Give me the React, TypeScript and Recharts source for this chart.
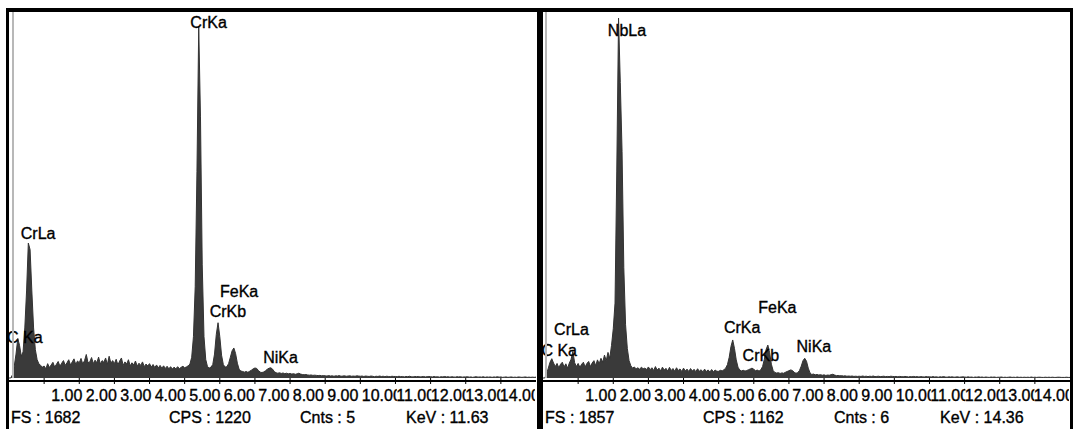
import { Area, AreaChart, ReferenceDot, XAxis, YAxis } from "recharts"

const font = "'Liberation Sans', Arial, sans-serif"
const channelKeV = 0.05
const kevTicks = [1, 2, 3, 4, 5, 6, 7, 8, 9, 10, 11, 12, 13, 14]

// counts per 0.05 keV channel, 0 .. 15 keV
const leftCounts = [
  0, 0, 15, 55, 110, 182, 150, 100, 120, 230, 400, 620, 590, 400, 230, 130, 85, 65, 58, 50,
  55, 42, 66, 48, 60, 72, 50, 63, 76, 54, 68, 80, 58, 70, 84, 60, 74, 88, 62, 78,
  70, 90, 64, 80, 108, 70, 74, 94, 66, 82, 70, 96, 64, 80, 72, 92, 62, 100, 68, 80,
  66, 86, 60, 78, 92, 58, 74, 64, 84, 56, 70, 60, 78, 54, 68, 58, 74, 52, 64, 56,
  66, 50, 62, 48, 60, 46, 58, 45, 56, 44, 54, 42, 52, 41, 50, 42, 52, 43, 49, 54,
  47, 51, 56, 64, 95, 190, 420, 950, 1615, 1200, 520, 190, 85, 52, 46, 50, 62, 110, 200, 254,
  190, 105, 62, 50, 52, 66, 95, 125, 138, 112, 68, 40, 32, 30, 27, 30, 26, 31, 36, 42,
  46, 44, 34, 27, 25, 28, 33, 40, 45, 47, 41, 30, 24, 22, 24, 21, 23, 20, 22, 19,
  21, 18, 20, 17, 19, 22, 18, 16, 15, 16, 14, 13, 14, 12, 13, 12, 11, 12, 10, 11,
  10, 9, 11, 9, 10, 8, 10, 9, 11, 8, 9, 10, 8, 9, 10, 8, 9, 8, 10, 9,
  8, 9, 7, 9, 8, 7, 9, 8, 6, 8, 7, 9, 7, 8, 6, 8, 7, 6, 8, 7,
  7, 6, 8, 6, 7, 5, 7, 6, 8, 6, 5, 7, 6, 7, 5, 6, 7, 5, 6, 7,
  6, 5, 7, 5, 6, 4, 6, 5, 7, 5, 6, 4, 6, 5, 4, 6, 5, 6, 4, 5,
  5, 6, 4, 5, 3, 5, 6, 4, 5, 4, 6, 3, 5, 4, 5, 3, 5, 4, 6, 4,
  5, 3, 4, 5, 3, 4, 5, 3, 4, 3, 5, 4, 3, 4, 5, 3, 4, 3, 4, 3,
  4,
]

const rightCounts = [
  0, 0, 20, 50, 80, 98, 76, 58, 74, 52, 70, 80, 56, 72, 50, 76, 95, 135, 78, 58,
  74, 54, 70, 80, 56, 74, 84, 58, 76, 88, 62, 92, 72, 100, 80, 116, 88, 130, 100, 165,
  250, 380, 1050, 1826, 1500, 1150, 560, 270, 150, 88, 62, 50, 56, 46, 52, 44, 55, 47, 50, 43,
  56, 42, 52, 38, 58, 40, 50, 36, 55, 40, 49, 35, 54, 38, 48, 34, 52, 38, 46, 33,
  50, 36, 45, 33, 48, 35, 44, 32, 47, 34, 42, 31, 45, 33, 41, 30, 43, 32, 40, 34,
  34, 39, 36, 42, 50, 68, 105, 160, 193, 150, 92, 55, 40, 36, 39, 35, 38, 42, 46, 50,
  44, 37, 40, 35, 42, 58, 95, 145, 167, 128, 70, 38, 28, 25, 27, 23, 26, 24, 29, 33,
  37, 41, 38, 29, 24, 27, 38, 60, 88, 100, 85, 50, 26, 18, 20, 16, 18, 15, 17, 14,
  16, 13, 15, 14, 17, 19, 15, 12, 13, 11, 12, 10, 11, 9, 10, 9, 10, 8, 9, 8,
  9, 8, 10, 8, 9, 7, 9, 8, 10, 7, 8, 9, 7, 8, 9, 7, 8, 7, 9, 8,
  7, 8, 6, 8, 7, 6, 8, 7, 5, 7, 6, 8, 6, 7, 5, 7, 6, 5, 7, 6,
  6, 5, 7, 5, 6, 4, 6, 5, 7, 5, 4, 6, 5, 6, 4, 5, 6, 4, 5, 6,
  5, 4, 6, 4, 5, 3, 5, 4, 6, 4, 5, 3, 5, 4, 3, 5, 4, 5, 3, 4,
  4, 5, 3, 4, 3, 4, 5, 3, 4, 3, 5, 3, 4, 3, 4, 3, 4, 3, 5, 3,
  4, 3, 4, 4, 3, 3, 4, 3, 4, 3, 4, 3, 3, 4, 4, 3, 3, 3, 4, 3,
  3,
]

// peak labels: name, keV, counts where the label sits
const leftPeakNames = ["CrKa", "CrLa", "C Ka", "FeKa", "CrKb", "NiKa"]
const leftPeakKeV = [5.68, 0.83, 0.45, 6.55, 6.23, 7.73]
const leftPeakLevel = [1636, 664, 186, 400, 306, 94]

const rightPeakNames = ["NbLa", "CrLa", "C Ka", "CrKa", "FeKa", "CrKb", "NiKa"]
const rightPeakKeV = [2.39, 0.81, 0.46, 5.67, 6.67, 6.2, 7.71]
const rightPeakLevel = [1764, 247, 138, 259, 361, 117, 159]

const leftStatus = ["FS : 1682", "CPS : 1220", "Cnts : 5", "KeV : 11.63"]
const rightStatus = ["FS : 1857", "CPS : 1162", "Cnts : 6", "KeV : 14.36"]
const leftFullScale = 1682
const rightFullScale = 1857

const statusX = [2, 160, 291, 397]
const plotW = 527
const plotH = 369

function KevTick(props: any) {
  const { x, y, payload } = props
  const v = payload.value as number
  const shift = 7 - (v - 1) * 0.615
  return (
    <g>
      <line x1={x} x2={x} y1={y - 3} y2={y + 3} stroke="#000" strokeWidth={1} />
      <svg x={x + shift} y={y + 3} width={35} height={22} overflow="hidden">
        <text x={0} y={17} fontSize={16} fontFamily={font} fill="#000" stroke="#000" strokeWidth={0.35}>
          {v.toFixed(2)}
        </text>
      </svg>
    </g>
  )
}

type SpectrumProps = {
  left: number
  counts: number[]
  names: string[]
  peakKeV: number[]
  peakLevel: number[]
  fullScale: number
  status: string[]
}

function Spectrum({ left, counts, names, peakKeV, peakLevel, fullScale, status }: SpectrumProps) {
  const rows = counts.map((c, i) => ({ keV: Math.round(i * channelKeV * 100) / 100, counts: c }))
  // zero sits 3px above the axis line
  const floor = -(fullScale * 3) / (plotH - 3)
  return (
    <>
      <div style={{ position: "absolute", left, top: 12 }}>
        <AreaChart width={plotW} height={plotH + 30} data={rows} margin={{ top: 0, right: 0, bottom: 0, left: 0 }}>
          <XAxis
            type="number"
            dataKey="keV"
            domain={[0, 15]}
            ticks={kevTicks}
            interval={0}
            allowDataOverflow
            height={30}
            axisLine={{ stroke: "#000", strokeWidth: 2 }}
            tickLine={false}
            tickSize={0}
            tickMargin={0}
            tick={(p: any) => <KevTick {...p} />}
          />
          <YAxis hide type="number" domain={[floor, fullScale]} allowDataOverflow />
          <Area
            type="linear"
            dataKey="counts"
            stroke="#333"
            strokeWidth={1}
            fill="#3a3a3a"
            fillOpacity={1}
            baseValue={0}
            dot={false}
            activeDot={false}
            isAnimationActive={false}
          />
          {names.map((n, i) => (
            <ReferenceDot
              key={n}
              x={peakKeV[i]}
              y={peakLevel[i]}
              r={0}
              fill="none"
              stroke="none"
              label={{
                value: n,
                position: "center",
                fill: "#000",
                stroke: "#000",
                strokeWidth: 0.35,
                fontSize: 16,
                fontFamily: font,
              }}
            />
          ))}
        </AreaChart>
      </div>
      <svg style={{ position: "absolute", left, top: 404 }} width={plotW} height={25}>
        {status.map((s, i) => (
          <text key={s} x={statusX[i]} y={19} fontSize={16} fontFamily={font} fill="#000" stroke="#000" strokeWidth={0.35}>
            {s}
          </text>
        ))}
      </svg>
    </>
  )
}

const block = (l: number, t: number, w: number, h: number, c: string) => (
  <div style={{ position: "absolute", left: l, top: t, width: w, height: h, background: c }} />
)

export default function App() {
  return (
    <div style={{ position: "absolute", left: 0, top: 0, width: 1073, height: 429, background: "#fff", overflow: "hidden" }}>
      <Spectrum
        left={9}
        counts={leftCounts}
        names={leftPeakNames}
        peakKeV={leftPeakKeV}
        peakLevel={leftPeakLevel}
        fullScale={leftFullScale}
        status={leftStatus}
      />
      <Spectrum
        left={543}
        counts={rightCounts}
        names={rightPeakNames}
        peakKeV={rightPeakKeV}
        peakLevel={rightPeakLevel}
        fullScale={rightFullScale}
        status={rightStatus}
      />
      {block(12, 12, 2, 366, "#b8b8b8")}
      {block(545, 12, 2, 366, "#b8b8b8")}
      {block(6, 8, 1067, 4, "#000")}
      {block(6, 8, 3, 421, "#000")}
      {block(537, 8, 6, 421, "#000")}
      {block(1070, 8, 3, 421, "#000")}
    </div>
  )
}
